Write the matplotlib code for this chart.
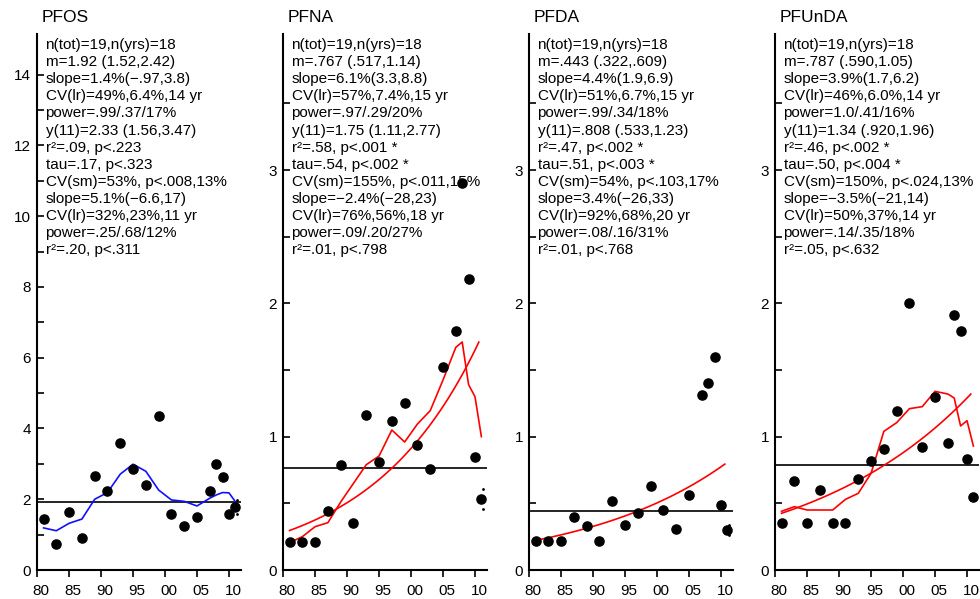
import numpy as np
import matplotlib.pyplot as plt
from matplotlib.transforms import ScaledTranslation

plt.rcParams['font.family'] = ['Liberation Sans', 'DejaVu Sans']

# sampling years
years = [1981, 1983, 1985, 1987, 1989, 1991, 1993, 1995, 1997, 1999,
         2001, 2003, 2005, 2007, 2008, 2009, 2010, 2011]

names = ['PFOS', 'PFNA', 'PFDA', 'PFUnDA']

# yearly values
pfos = [1.45, 0.73, 1.63, 0.90, 2.66, 2.23, 3.60, 2.86, 2.40, 4.34,
        1.58, 1.25, 1.49, 2.23, 3.01, 2.63, 1.59, 1.77]
pfna = [0.21, 0.21, 0.21, 0.44, 0.79, 0.35, 1.16, 0.81, 1.12, 1.25,
        0.94, 0.76, 1.52, 1.79, 2.90, 2.18, 0.85, 0.53]
pfda = [0.215, 0.215, 0.215, 0.40, 0.33, 0.215, 0.52, 0.34, 0.43, 0.63,
        0.45, 0.31, 0.56, 1.31, 1.40, 1.60, 0.49, 0.30]
pfunda = [0.355, 0.67, 0.355, 0.60, 0.355, 0.355, 0.68, 0.82, 0.91, 1.19,
          2.00, 0.92, 1.30, 0.95, 1.91, 1.79, 0.83, 0.55]

# smoothed lines (None = not drawn)
pfos_sm = [1.19, 1.11, 1.32, 1.44, 2.00, 2.19, 2.71, 2.99, 2.79, 2.26,
           1.98, 1.94, 1.81, 2.03, 2.12, 2.19, 2.18, 1.93]
pfna_sm = [0.205, 0.25, 0.325, 0.355, 0.51, 0.65, 0.79, 0.855, 1.05, 0.96,
           1.095, 1.195, 1.425, 1.67, 1.71, 1.39, 1.30, 1.00]
pfunda_sm = [0.44, 0.475, 0.45, 0.45, 0.45, 0.53, 0.575, 0.725, 1.04, 1.105,
             1.21, 1.225, 1.34, 1.32, 1.29, 1.08, 1.12, 0.93]

# geometric means (horizontal line)
means = [1.92, 0.767, 0.443, 0.787]

# log-linear fit: slope %/yr and fitted value in 2011 (None = no fit drawn)
fit_slope = [None, 6.1, 4.4, 3.9]
fit_y11 = [None, 1.75, 0.808, 1.34]

# small dots at the last year
end_dots = [[1.98, 1.57], [0.61, 0.46], [0.335, 0.26], []]

stats = [
    ['n(tot)=19,n(yrs)=18', 'm=1.92 (1.52,2.42)', 'slope=1.4%(\u2212.97,3.8)',
     'CV(lr)=49%,6.4%,14 yr', 'power=.99/.37/17%', 'y(11)=2.33 (1.56,3.47)',
     'r\u00b2=.09, p<.223', 'tau=.17, p<.323', 'CV(sm)=53%, p<.008,13%',
     'slope=5.1%(\u22126.6,17)', 'CV(lr)=32%,23%,11 yr', 'power=.25/.68/12%',
     'r\u00b2=.20, p<.311'],
    ['n(tot)=19,n(yrs)=18', 'm=.767 (.517,1.14)', 'slope=6.1%(3.3,8.8)',
     'CV(lr)=57%,7.4%,15 yr', 'power=.97/.29/20%', 'y(11)=1.75 (1.11,2.77)',
     'r\u00b2=.58, p<.001 *', 'tau=.54, p<.002 *', 'CV(sm)=155%, p<.011,15%',
     'slope=\u22122.4%(\u221228,23)', 'CV(lr)=76%,56%,18 yr', 'power=.09/.20/27%',
     'r\u00b2=.01, p<.798'],
    ['n(tot)=19,n(yrs)=18', 'm=.443 (.322,.609)', 'slope=4.4%(1.9,6.9)',
     'CV(lr)=51%,6.7%,15 yr', 'power=.99/.34/18%', 'y(11)=.808 (.533,1.23)',
     'r\u00b2=.47, p<.002 *', 'tau=.51, p<.003 *', 'CV(sm)=54%, p<.103,17%',
     'slope=3.4%(\u221226,33)', 'CV(lr)=92%,68%,20 yr', 'power=.08/.16/31%',
     'r\u00b2=.01, p<.768'],
    ['n(tot)=19,n(yrs)=18', 'm=.787 (.590,1.05)', 'slope=3.9%(1.7,6.2)',
     'CV(lr)=46%,6.0%,14 yr', 'power=1.0/.41/16%', 'y(11)=1.34 (.920,1.96)',
     'r\u00b2=.46, p<.002 *', 'tau=.50, p<.004 *', 'CV(sm)=150%, p<.024,13%',
     'slope=\u22123.5%(\u221221,14)', 'CV(lr)=50%,37%,14 yr', 'power=.14/.35/18%',
     'r\u00b2=.05, p<.632'],
]

values = [pfos, pfna, pfda, pfunda]
smooth = [pfos_sm, pfna_sm, None, pfunda_sm]
smooth_col = ['#1010ff', '#ff0000', '#ff0000', '#ff0000']

W, H = 980, 599
fig = plt.figure(figsize=(W / 100, H / 100), dpi=100)

lefts = [36.5, 282.5, 528.5, 774.5]
ax_w, ax_top, ax_bot = 204, 34, 570
xoff = ScaledTranslation(4 / 100, 0, fig.dpi_scale_trans)

for i in range(4):
    ax = fig.add_axes([lefts[i] / W, (H - ax_bot) / H, ax_w / W, (ax_bot - ax_top) / H])
    x = np.array(years)
    ax.axhline(means[i], color='black', lw=1.2, zorder=2)
    if smooth[i] is not None:
        ax.plot(x, smooth[i], color=smooth_col[i], lw=1.2, zorder=3)
    if fit_slope[i] is not None:
        t = np.linspace(1981, 2010.6, 80)
        ax.plot(t, fit_y11[i] * (1 + fit_slope[i] / 100) ** (t - 2011),
                color='#ff0000', lw=1.2, zorder=3)
    ax.plot(x, values[i], 'o', color='black', ms=6.6, zorder=5)
    if end_dots[i]:
        ax.plot([2011.3] * len(end_dots[i]), end_dots[i], '.', color='black',
                ms=2, zorder=5)

    ax.set_xlim(1979.9, 2011.8)
    ax.set_xticks([1980, 1985, 1990, 1995, 2000, 2005, 2010])
    ax.set_xticklabels(['80', '85', '90', '95', '00', '05', '10'])
    if i == 0:
        ax.set_ylim(0, 15.15)
        ax.set_yticks(range(0, 15, 2))
        ax.set_yticks(range(1, 14, 2), minor=True)
    else:
        ax.set_ylim(0, 4.02)
        ax.set_yticks([0, 1, 2, 3])
        ax.set_yticks([0.5, 1.5, 2.5, 3.5], minor=True)

    for s in ['top', 'right']:
        ax.spines[s].set_visible(False)
    for s in ['left', 'bottom']:
        ax.spines[s].set_linewidth(1.5)
    ax.tick_params(axis='y', which='both', direction='in', length=5, width=1.2,
                   labelsize=11, pad=4)
    ax.tick_params(axis='x', direction='out', length=5, width=1.2,
                   labelsize=11, pad=5)
    for lab in ax.get_xticklabels():
        lab.set_transform(lab.get_transform() + xoff)

    fig.text((lefts[i] + 5.5) / W, 1 - 18 / H, names[i], fontsize=12.5,
             ha='left', va='center')
    for k, line in enumerate(stats[i]):
        fig.text((lefts[i] + 9) / W, 1 - (45 + 17.1 * k) / H, line,
                 fontsize=11, ha='left', va='center', zorder=1)

fig.savefig('out.png', dpi=100)
